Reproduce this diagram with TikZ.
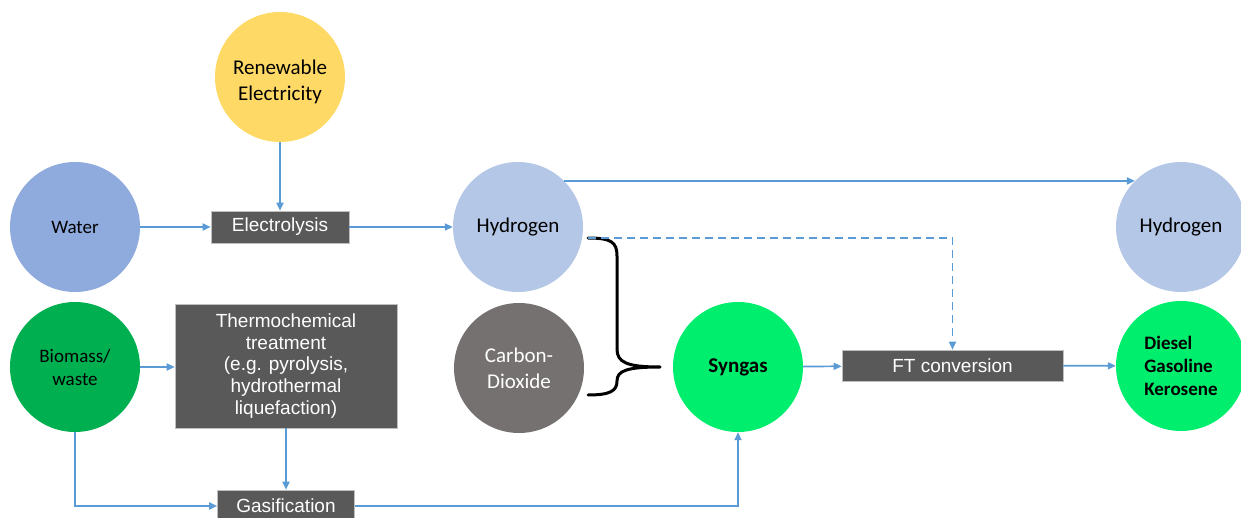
\documentclass[tikz,border=0pt]{standalone}
\usepackage{fontspec}
\setmainfont{Carlito}
\newfontfamily\boxfont{Liberation Sans}
\usetikzlibrary{arrows.meta,calc}

\definecolor{sun}{HTML}{FFD966}
\definecolor{waterblue}{HTML}{8FAADC}
\definecolor{hydblue}{HTML}{B4C7E7}
\definecolor{cotwo}{HTML}{767171}
\definecolor{syngreen}{HTML}{00EE6E}
\definecolor{biogreen}{HTML}{00B050}
\definecolor{boxgray}{HTML}{595959}
\definecolor{boxedge}{HTML}{BFBFBF}
\definecolor{flowblue}{HTML}{5B9BD5}

\begin{document}
\begin{tikzpicture}[x=1pt, y=-1pt,
  ball/.style={circle, minimum size=130pt, inner sep=0pt, align=center,
    font=\fontsize{21}{26}\selectfont},
  smallball/.style={ball, font=\fontsize{19}{23}\selectfont},
  procbox/.style={rectangle, fill=boxgray, draw=boxedge, line width=0.6pt,
    text=white, inner sep=0pt, align=center,
    font=\boxfont\fontsize{19}{21.7}\selectfont},
  flow/.style={draw=flowblue, line width=1.7pt,
    -{Triangle[length=8pt,width=7pt]}},
  hint/.style={flow, dash pattern=on 8pt off 5pt}]

\useasboundingbox (0,0) rectangle (1241,518);

% sources
\node[ball, fill=sun] (re) at (280,77) {\rule{0pt}{24pt}Renewable\\Electricity};
\node[smallball, fill=waterblue] (water) at (75,227) {Water};
\node[smallball, fill=biogreen] (bio) at (75,367) {Biomass/\\waste};

% process steps
\node[procbox, minimum width=138pt, minimum height=32pt] (elec) at (280,227) {Electrolysis};
\node[procbox, minimum width=222pt, minimum height=124pt] (thermo) at (286,366)
  {Thermochemical\\treatment\\(e.g. pyrolysis,\\hydrothermal\\liquefaction)};
\node[procbox, minimum width=137pt, minimum height=32pt] (gas) at (286,506) {Gasification};
\node[procbox, minimum width=221pt, minimum height=31pt] (ft) at (952.5,365.5) {FT conversion};

% intermediates and products
\node[ball, fill=hydblue] (h1) at (518,227) {Hydrogen};
\node[ball, fill=cotwo, text=white] (co2) at (519,368) {Carbon-\\Dioxide};
\node[ball, fill=syngreen, font=\fontsize{21}{26}\selectfont\bfseries] (syn) at (738,367) {Syngas};
\node[ball, fill=hydblue] (h2) at (1181,227) {Hydrogen};
\node[smallball, fill=syngreen, align=left, font=\fontsize{19}{23}\selectfont\bfseries] (fuel) at (1181,366)
  {Diesel\\Gasoline\\Kerosene};

% brace joining hydrogen and carbon dioxide
\coordinate (brtop) at (588,238);
\coordinate (brtip) at (660,367);
\coordinate (brbot) at (588,395);
\draw[line width=3pt, line cap=round, line join=round]
  (brtop) .. controls (611,238) and (617,242) .. (617,256)
  -- (617,349) .. controls (617,362) and (626,367) .. (brtip)
  (brtip) .. controls (626,367) and (617,371) .. (617,381)
  .. controls (617,391) and (610,395) .. (brbot);

% flows
\draw[flow] (re.south) -- (elec.north);
\draw[flow] (water) -- (elec);
\draw[flow] (elec) -- (h1);
\draw[flow] (h1.45) -- (h2.135);
\draw[flow] (bio.east) -- (bio.east -| thermo.west);
\draw[flow] (thermo) -- (gas);
\draw[flow] (bio.south) |- (gas.west);
\draw[flow] (gas.east) -| (syn.south);
\draw[flow] (syn) -- (ft);
\draw[flow] (ft) -- (fuel);
\draw[hint] (brtop) -| (ft.north);

\end{tikzpicture}
\end{document}
